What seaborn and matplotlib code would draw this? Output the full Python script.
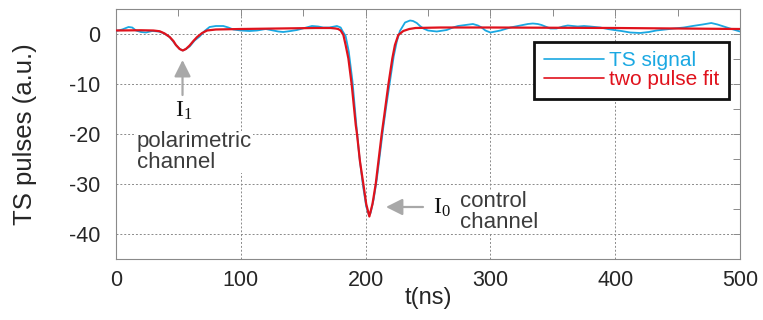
import numpy as np
import pandas as pd
import seaborn as sns
import matplotlib.pyplot as plt
from matplotlib.ticker import MultipleLocator

sns.set_style('white')
plt.rcParams['font.family'] = ['Liberation Sans', 'DejaVu Sans']
plt.rcParams['axes.unicode_minus'] = False

# TS signal (time in ns, pulse in a.u.)
ts_t = [0, 5, 10, 13, 16, 20, 24, 29, 34, 38, 43, 48, 51, 53.5, 56, 59, 63, 67,
        71, 75, 80, 86, 90, 94, 100, 107, 113, 120, 124, 130, 134, 140, 145,
        151, 157, 162, 166, 171, 175, 177, 180, 181.5, 184, 186.5, 189.5,
        192.5, 195, 198, 200.5, 202.5, 204, 206.5, 209, 211.5, 214, 216.5,
        219.5, 222.5, 225, 227.5, 231.6, 235.6, 238, 241, 243.6, 246.3, 250,
        257, 265, 270, 274, 280, 286, 290, 293, 296, 300, 304, 308, 316, 322,
        326, 330, 334, 338, 341, 345, 348, 353, 358, 362, 366, 370, 375, 380,
        388, 394, 399, 405, 412, 420, 427, 433, 440, 447, 455, 462, 470, 477,
        482, 487, 492, 496, 500]
ts_signal = [0.6, 0.9, 1.4, 1.3, 0.7, 0.4, 0.3, 0.6, 0.5, 0.2, -0.6, -2.2, -3.0,
             -3.3, -3.0, -2.5, -1.3, -0.5, 0.6, 1.4, 1.6, 1.6, 1.3, 0.9, 0.7,
             0.6, 0.7, 1.0, 0.8, 0.5, 0.4, 0.6, 0.8, 1.2, 1.6, 1.5, 1.3, 1.3,
             1.5, 1.6, 1.3, 0.6, -0.4, -3.5, -9.5, -18.0, -24.5, -30.5, -34.5,
             -36.1, -35.8, -33.0, -29.0, -24.0, -19.0, -14.5, -9.5, -4.5, -1.5,
             0.6, 2.3, 2.7, 2.6, 2.2, 1.6, 1.1, 0.7, 0.5, 0.8, 1.3, 1.6, 1.8,
             2.0, 1.7, 1.3, 0.7, 0.3, 0.5, 0.7, 1.3, 1.6, 1.8, 2.0, 2.1, 2.0,
             1.8, 1.4, 1.1, 1.1, 1.5, 1.7, 1.6, 1.5, 1.6, 1.5, 1.3, 1.0, 0.8,
             0.6, 0.3, 0.2, 0.4, 0.7, 0.9, 1.1, 1.3, 1.6, 1.9, 2.2, 1.9, 1.5,
             1.1, 0.8, 0.5]

# two pulse fit
fit_t = [0, 20, 30, 35, 39, 43, 46, 48, 51, 53.5, 56, 59, 62, 65, 69, 73, 80,
         100, 130, 160, 172, 176, 178, 180, 182.2, 184, 186.2, 188.9, 192.1,
         193.1, 195.5, 198.2, 200.5, 203, 205.5, 208.1, 210.5, 212.9, 215,
         218.2, 221.4, 223.5, 226.2, 230.2, 235, 240, 260, 300, 400, 450, 500]
fit_values = [0.7, 0.75, 0.7, 0.55, 0.1, -0.6, -1.4, -2.2, -3.0, -3.3, -3.0,
              -2.3, -1.4, -0.6, 0.2, 0.7, 0.9, 1.0, 1.1, 1.2, 1.2, 1.1, 1.0,
              0.7, -0.2, -2.2, -4.9, -10.2, -18.2, -20.0, -25.5, -30.0, -34.0,
              -36.5, -34.0, -30.0, -25.0, -20.0, -16.2, -10.2, -4.9, -2.2,
              -0.2, 0.6, 1.0, 1.2, 1.3, 1.3, 1.2, 1.1, 1.0]

blue = '#1aa8e2'
red = '#e0121c'
txt = '#3c3c3c'

signal_df = pd.DataFrame({'t': ts_t, 'pulse': ts_signal})
fit_df = pd.DataFrame({'t': fit_t, 'pulse': fit_values})

fig = plt.figure(figsize=(7.63, 3.2), dpi=100)
ax = fig.add_axes([116 / 763, 61 / 320, 624 / 763, 250 / 320])

sns.lineplot(data=signal_df, x='t', y='pulse', color=blue, lw=1.3,
             label='TS signal', ax=ax, zorder=3)
sns.lineplot(data=fit_df, x='t', y='pulse', color=red, lw=1.6,
             label='two pulse fit', ax=ax, zorder=4)

ax.set_xlim(0, 500)
ax.set_ylim(-45, 5)
ax.xaxis.set_major_locator(MultipleLocator(100))
ax.xaxis.set_minor_locator(MultipleLocator(50))
ax.yaxis.set_major_locator(MultipleLocator(10))
ax.yaxis.set_minor_locator(MultipleLocator(5))
ax.grid(True, which='major', color='#8a8a8a', lw=0.7, ls=(0, (2, 2)))
ax.tick_params(which='both', direction='in', top=True, right=True,
               length=5, width=0.7, color='#8a8a8a', labelsize=15.5)
ax.tick_params(axis='y', pad=11)
ax.tick_params(axis='x', pad=8)
for s in ax.spines.values():
    s.set_color('#8a8a8a')
    s.set_linewidth(0.8)

ax.set_xlabel('t(ns)', fontsize=17)
ax.set_ylabel('TS pulses (a.u.)', fontsize=18.5)
ax.xaxis.set_label_coords(0.5, -0.112)
ax.yaxis.set_label_coords(-0.127, 0.5)

leg = ax.legend(loc='upper right', bbox_to_anchor=(0.982, 0.869),
                borderaxespad=0, fontsize=15, labelspacing=0.0,
                handlelength=2.9, handletextpad=0.25, borderpad=0.45,
                fancybox=False, framealpha=1, edgecolor='#111111',
                labelcolor='linecolor')
leg.get_frame().set_linewidth(2)
for h in leg.get_lines():
    h.set_linewidth(1.2)

arrow = dict(arrowstyle='-|>,head_length=1.0,head_width=0.5', color='#a8a8a8',
             lw=1.6, mutation_scale=10, shrinkA=0, shrinkB=0)
ax.annotate('', xy=(53.3, -5.2), xytext=(53.3, -12.2), arrowprops=arrow)
ax.annotate('', xy=(216.3, -34.6), xytext=(246, -34.6), arrowprops=arrow)

ax.text(54.5, -15.4, r'$\mathregular{I_1}$', fontsize=17, ha='center',
        va='center', family=['Liberation Serif', 'DejaVu Serif'], color='#111')
ax.text(261, -34.8, r'$\mathregular{I_0}$', fontsize=17, ha='center',
        va='center', family=['Liberation Serif', 'DejaVu Serif'], color='#111')

box = dict(facecolor='white', edgecolor='none', pad=0.5)
ax.text(16.8, -23.6, 'polarimetric\nchannel', fontsize=16, color=txt,
        ha='left', va='center', linespacing=0.95, bbox=box, zorder=2)
ax.text(275.6, -35.6, 'control\nchannel', fontsize=16, color=txt,
        ha='left', va='center', linespacing=0.95, bbox=box, zorder=2)

fig.savefig('out.png', dpi=100)
